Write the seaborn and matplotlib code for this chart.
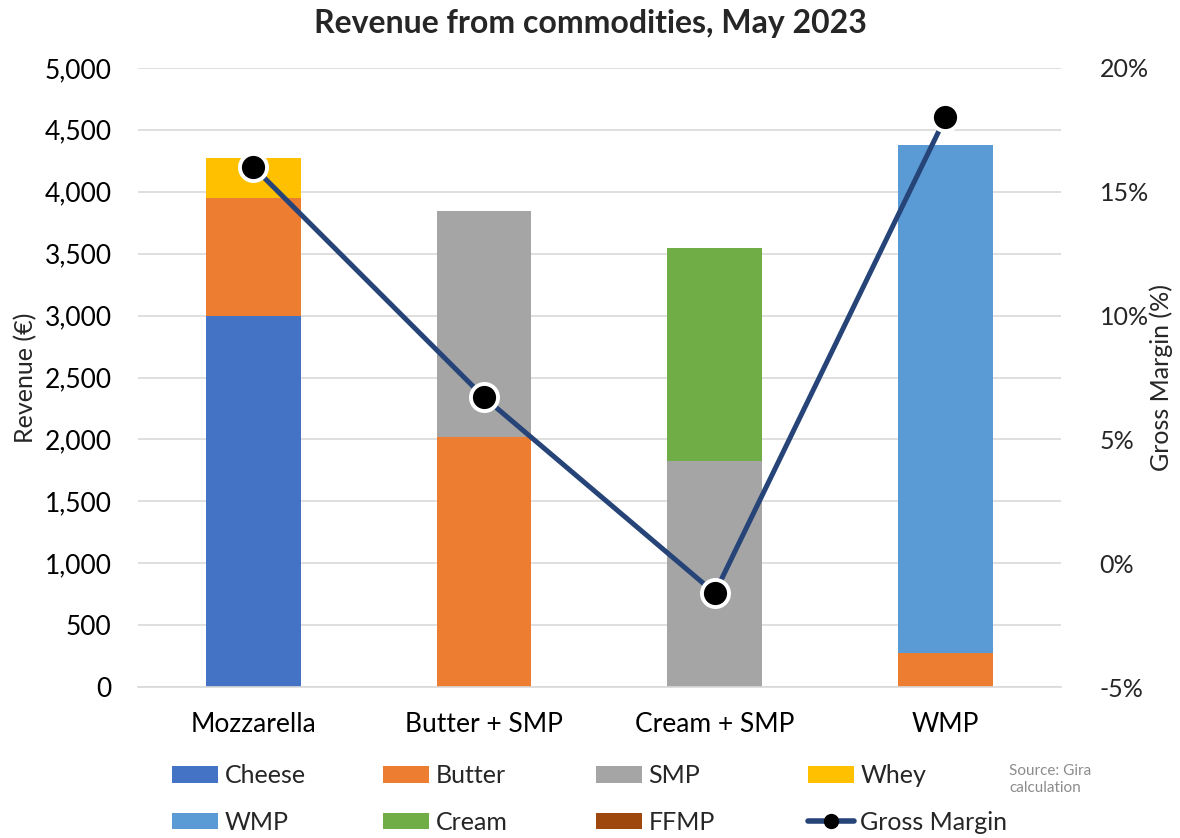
import matplotlib
matplotlib.use("Agg")
import matplotlib.pyplot as plt
import matplotlib.ticker as mticker
from matplotlib.patches import Patch
from matplotlib.lines import Line2D
import seaborn as sns
import pandas as pd

# Product routes and the commodity revenue that makes up each stack (EUR)
routes = ["Mozzarella", "Butter + SMP", "Cream + SMP", "WMP"]
cheese = [3000, 0, 0, 0]
butter = [950, 2020, 0, 275]
smp = [0, 1825, 1825, 0]
whey = [320, 0, 0, 0]
wmp = [0, 0, 0, 4100]
cream = [0, 0, 1720, 0]
ffmp = [0, 0, 0, 0]
gross_margin = [16.0, 6.7, -1.2, 18.0]  # percent

layers = [
    ("Cheese", cheese, "#4472C4"),
    ("Butter", butter, "#ED7D31"),
    ("SMP", smp, "#A5A5A5"),
    ("Whey", whey, "#FFC000"),
    ("WMP", wmp, "#5B9BD5"),
    ("Cream", cream, "#70AD47"),
    ("FFMP", ffmp, "#9E480E"),
]
line_color = "#264478"

sns.set_theme(style="white")
plt.rcParams["font.family"] = ["Lato", "DejaVu Sans"]

fig = plt.figure(figsize=(11.8, 8.38), dpi=100)
ax = fig.add_axes([0.117, 0.18, 0.782, 0.739])

bottom = [0.0] * len(routes)
for name, vals, col in layers:
    df = pd.DataFrame({"route": routes, "value": vals})
    sns.barplot(data=df, x="route", y="value", order=routes, color=col,
                width=0.41, bottom=bottom, ax=ax, saturation=1,
                linewidth=0, errorbar=None)
    bottom = [b + v for b, v in zip(bottom, vals)]

ax.set_ylim(0, 5000)
ax.set_xlim(-0.5, len(routes) - 0.5)
ax.yaxis.set_major_locator(mticker.MultipleLocator(500))
ax.yaxis.set_major_formatter(mticker.FuncFormatter(lambda v, p: f"{v:,.0f}"))
ax.grid(axis="y", color="#D9D9D9", linewidth=1.2)
ax.set_axisbelow(True)
for s in ["top", "left", "right"]:
    ax.spines[s].set_visible(False)
ax.spines["bottom"].set_color("#D9D9D9")
ax.spines["bottom"].set_linewidth(1.2)
ax.tick_params(axis="both", length=0, labelsize=19, colors="black")
ax.tick_params(axis="y", pad=19)
ax.tick_params(axis="x", pad=18)
ax.set_xlabel("")
ax.set_ylabel("Revenue (€)", fontsize=18, va="center")
ax.yaxis.set_label_coords(-0.122, 0.5)

# Gross margin on the secondary axis
ax2 = ax.twinx()
gm_df = pd.DataFrame({"route": routes, "gm": gross_margin})
sns.pointplot(data=gm_df, x="route", y="gm", order=routes, color=line_color,
              markers="o", linewidth=3.6, markersize=0, errorbar=None, ax=ax2)
ax2.plot(range(len(routes)), gross_margin, linestyle="none", marker="o",
         markersize=19.5, markerfacecolor="black", markeredgecolor="white",
         markeredgewidth=2.8, zorder=5)
ax2.set_ylim(-5, 20)
ax2.set_xlim(-0.5, len(routes) - 0.5)
ax2.yaxis.set_major_locator(mticker.MultipleLocator(5))
ax2.yaxis.set_major_formatter(mticker.FuncFormatter(lambda v, p: f"{v:.0f}%"))
for s in ax2.spines.values():
    s.set_visible(False)
ax2.tick_params(axis="y", length=0, labelsize=18, pad=28)
ax2.set_xlabel("")
ax2.set_ylabel("Gross Margin (%)", fontsize=18, va="center")
ax2.yaxis.set_label_coords(1.109, 0.5)
ax2.grid(False)

fig.text(0.5, 0.972, "Revenue from commodities, May 2023", ha="center",
         va="center", fontsize=23, fontweight="bold")

# Legend: four fixed-width columns, two rows
h = {name: Patch(facecolor=col, edgecolor="none") for name, _, col in layers}
h["Gross Margin"] = Line2D([0], [0], color=line_color, linewidth=4,
                           solid_capstyle="round", marker="o", markersize=10,
                           markerfacecolor="black", markeredgecolor="black")
columns = [["Cheese", "WMP"], ["Butter", "Cream"], ["SMP", "FFMP"],
           ["Whey", "Gross Margin"]]
col_x = [0.1458, 0.3246, 0.5051, 0.6847]
for names, x in zip(columns, col_x):
    leg = fig.legend([h[k] for k in names], names, loc="center left",
                     bbox_to_anchor=(x, 0.0465), frameon=False, fontsize=18,
                     handlelength=1.85, handleheight=0.65, handletextpad=0.25,
                     labelspacing=0.95, borderpad=0, borderaxespad=0)

fig.text(0.855, 0.07, "Source: Gira\ncalculation", fontsize=11,
         color="#8C8C8C", ha="left", va="center", linespacing=1.3)

fig.savefig("out.png", dpi=100)
